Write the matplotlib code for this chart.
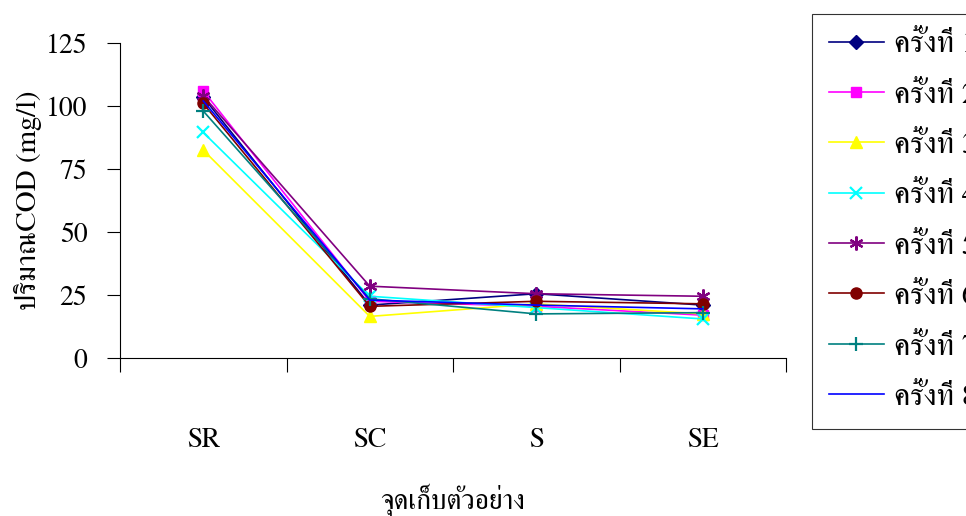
import matplotlib
matplotlib.use("Agg")
import matplotlib.pyplot as plt
from matplotlib.ticker import FixedLocator, NullFormatter, FixedFormatter

# Sampling points and COD values (mg/l) for each sampling round
sites = ["SR", "SC", "S", "SE"]
round_labels = ["ครั้งที่ 1", "ครั้งที่ 2", "ครั้งที่ 3", "ครั้งที่ 4",
                "ครั้งที่ 5", "ครั้งที่ 6", "ครั้งที่ 7", "ครั้งที่ 8"]
cod_r1 = [103.5, 21.0, 25.5, 21.0]
cod_r2 = [106.0, 22.5, 20.5, 17.0]
cod_r3 = [82.5, 16.5, 21.5, 17.5]
cod_r4 = [89.5, 24.5, 20.0, 15.5]
cod_r5 = [104.0, 28.5, 25.5, 24.5]
cod_r6 = [101.0, 20.5, 22.5, 21.5]
cod_r7 = [98.0, 23.5, 17.5, 18.0]
cod_r8 = [102.0, 23.0, 21.0, 19.5]
y_ticks = [0, 25, 50, 75, 100, 125]

series = [cod_r1, cod_r2, cod_r3, cod_r4, cod_r5, cod_r6, cod_r7, cod_r8]
colors = ["#000080", "#FF00FF", "#FFFF00", "#00FFFF",
          "#800080", "#800000", "#008080", "#0000FF"]
markers = ["D", "s", "^", "x", (6, 2, 0), "o", "+", None]
msizes = [7, 7, 8.5, 8.5, 10, 8, 10, 0]

plt.rcParams["font.family"] = ["FreeSerif", "Liberation Serif", "Taviraj", "DejaVu Sans"]

fig = plt.figure(figsize=(9.66, 5.16), dpi=100)
ax = fig.add_axes([120 / 966, 1 - 358 / 516, 666 / 966, 315 / 516])

x = list(range(len(sites)))
for vals, lab, c, m, ms in zip(series, round_labels, colors, markers, msizes):
    ax.plot(x, vals, color=c, lw=1.2, marker=m, markersize=ms,
            markeredgewidth=1.6 if m in ("x", "+", (6, 2, 0)) else 1.0,
            markerfacecolor=c, markeredgecolor=c, label=lab, clip_on=False)

ax.set_xlim(-0.5, len(sites) - 0.5)
ax.set_ylim(0, 125)
ax.set_yticks(y_ticks)
ax.tick_params(axis="y", direction="out", length=9.5, width=0.8,
               labelsize=20, pad=14, colors="black")

# Category boundaries carry the tick marks, labels sit at the centres
ax.xaxis.set_major_locator(FixedLocator([i - 0.5 for i in range(len(sites) + 1)]))
ax.xaxis.set_major_formatter(NullFormatter())
ax.xaxis.set_minor_locator(FixedLocator(x))
ax.xaxis.set_minor_formatter(FixedFormatter(sites))
ax.tick_params(axis="x", which="major", direction="out", length=10, width=0.8)
ax.tick_params(axis="x", which="minor", length=0, labelsize=20, pad=50)

for side in ("top", "right"):
    ax.spines[side].set_visible(False)
for side in ("left", "bottom"):
    ax.spines[side].set_linewidth(0.8)
    ax.spines[side].set_color("black")

ax.set_ylabel("ปริมาณCOD (mg/l)", fontsize=21, labelpad=3)
fig.text(453 / 966, 1 - 500 / 516, "จุดเก็บตัวอย่าง", fontsize=20,
         ha="center", va="center")

leg = fig.legend(loc="upper left", bbox_to_anchor=(812 / 966, 1 - 14 / 516),
                 bbox_transform=fig.transFigure, fontsize=22, frameon=True,
                 fancybox=False, borderpad=0.55, handlelength=1.8,
                 handletextpad=0.35, labelspacing=0.72, borderaxespad=0)
leg.get_frame().set_edgecolor("black")
leg.get_frame().set_linewidth(0.8)

fig.savefig("out.png", dpi=100)
